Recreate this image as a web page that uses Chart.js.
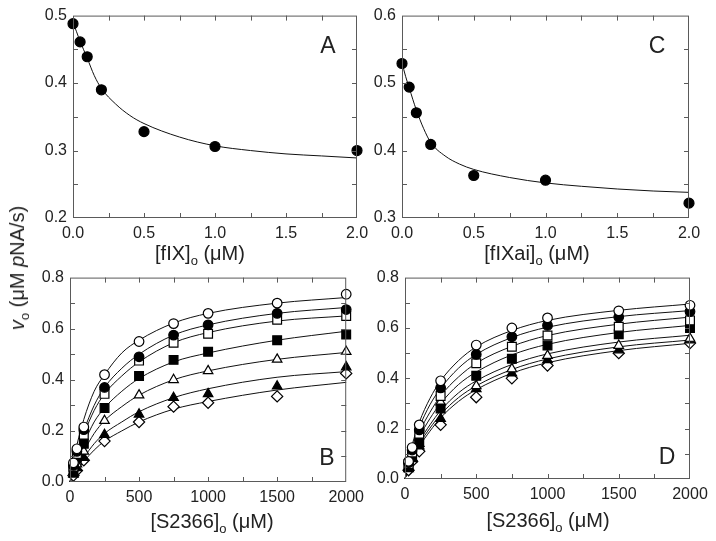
<!DOCTYPE html>
<html>
<head>
<meta charset="utf-8">
<script src="https://cdn.jsdelivr.net/npm/chart.js@4.4.1/dist/chart.umd.min.js"></script>
<style>
  body { margin: 0; background: #fff; }
  #wrap { position: relative; width: 716px; height: 541px; overflow: hidden;
          font-family: 'Liberation Sans', Arial, sans-serif; color: #222; }
  canvas { position: absolute; }
  .t { position: absolute; font-size: 20px; line-height: 20px; white-space: nowrap; transform: translateX(-50%); }
  .t sub { font-size: 13px; vertical-align: -5px; line-height: 0; }
  .ylab { position: absolute; left: 17px; top: 268px; font-size: 20px; line-height: 20px; white-space: nowrap;
          transform: translate(-50%, -50%) rotate(-90deg); }
  .ylab sub { font-size: 13px; vertical-align: -5px; line-height: 0; }
  .letter { position: absolute; font-size: 23px; line-height: 23px; transform: translate(-50%, -50%); }
</style>
</head>
<body>
<div id="wrap">
  <canvas id="cA" width="380" height="250" style="left:0;top:0"></canvas>
  <canvas id="cC" width="360" height="250" style="left:356px;top:0"></canvas>
  <canvas id="cB" width="370" height="250" style="left:0;top:262px"></canvas>
  <canvas id="cD" width="360" height="250" style="left:356px;top:262px"></canvas>

  <div class="t" style="left:200px;top:243px">[fIX]<sub>o</sub> (&mu;M)</div>
  <div class="t" style="left:537px;top:243px">[fIXai]<sub>o</sub> (&mu;M)</div>
  <div class="t" style="left:212px;top:511px">[S2366]<sub>o</sub> (&mu;M)</div>
  <div class="t" style="left:548px;top:510px">[S2366]<sub>o</sub> (&mu;M)</div>
  <div class="ylab"><i>v</i><sub>o</sub> (&mu;M <i>p</i>NA/s)</div>

  <div class="letter" style="left:328px;top:45px">A</div>
  <div class="letter" style="left:657px;top:45px">C</div>
  <div class="letter" style="left:327px;top:457px">B</div>
  <div class="letter" style="left:667px;top:456px">D</div>
</div>
<script>
// panel A: rate vs [fIX]
const fixConc = [0, 0.05, 0.1, 0.2, 0.5, 1.0, 2.0];
const rateA = [0.488, 0.461, 0.439, 0.390, 0.328, 0.306, 0.300];
const fitConc = [0, 0.025, 0.05, 0.1, 0.15, 0.2, 0.3, 0.4, 0.5, 0.75, 1.0, 1.25, 1.5, 1.75, 2.0];
const fitA = [0.490, 0.476, 0.462, 0.437, 0.411, 0.392, 0.369, 0.352, 0.340, 0.320, 0.307, 0.300, 0.295, 0.292, 0.289];

// panel C: rate vs [fIXai]
const rateC = [0.529, 0.494, 0.456, 0.409, 0.363, 0.356, 0.322];
const fitC = [0.530, 0.510, 0.493, 0.460, 0.433, 0.412, 0.392, 0.380, 0.372, 0.360, 0.352, 0.347, 0.343, 0.340, 0.338];

// panels B and D: rate vs [S2366]
const s2366 = [25, 50, 100, 250, 500, 750, 1000, 1500, 2000];
const fitS = [0, 25, 50, 100, 175, 250, 375, 500, 750, 1000, 1500, 2000];

const rateB1 = [0.075, 0.130, 0.215, 0.420, 0.550, 0.620, 0.660, 0.700, 0.735];
const rateB2 = [0.065, 0.120, 0.205, 0.370, 0.490, 0.575, 0.615, 0.660, 0.675];
const rateB3 = [0.060, 0.110, 0.185, 0.345, 0.475, 0.545, 0.580, 0.635, 0.650];
const rateB4 = [0.050, 0.095, 0.150, 0.290, 0.415, 0.478, 0.510, 0.555, 0.577];
const rateB5 = [0.040, 0.070, 0.120, 0.240, 0.340, 0.400, 0.435, 0.480, 0.510];
const rateB6 = [0.030, 0.055, 0.095, 0.185, 0.265, 0.330, 0.345, 0.375, 0.450];
const rateB7 = [0.025, 0.045, 0.085, 0.160, 0.235, 0.295, 0.310, 0.335, 0.425];

const fitB1 = [0, 0.080, 0.145, 0.245, 0.355, 0.420, 0.505, 0.555, 0.622, 0.660, 0.700, 0.722];
const fitB2 = [0, 0.064, 0.117, 0.200, 0.300, 0.370, 0.445, 0.500, 0.575, 0.615, 0.660, 0.683];
const fitB3 = [0, 0.056, 0.105, 0.185, 0.280, 0.345, 0.415, 0.470, 0.545, 0.585, 0.630, 0.650];
const fitB4 = [0, 0.045, 0.085, 0.150, 0.235, 0.290, 0.355, 0.405, 0.470, 0.505, 0.555, 0.590];
const fitB5 = [0, 0.035, 0.067, 0.120, 0.190, 0.240, 0.295, 0.340, 0.400, 0.435, 0.480, 0.507];
const fitB6 = [0, 0.027, 0.052, 0.095, 0.150, 0.190, 0.235, 0.275, 0.330, 0.365, 0.410, 0.432];
const fitB7 = [0, 0.022, 0.043, 0.080, 0.125, 0.160, 0.200, 0.235, 0.285, 0.315, 0.360, 0.390];

const rateD1 = [0.070, 0.125, 0.215, 0.390, 0.532, 0.600, 0.640, 0.668, 0.690];
const rateD2 = [0.065, 0.115, 0.195, 0.362, 0.495, 0.565, 0.610, 0.643, 0.665];
const rateD3 = [0.060, 0.105, 0.180, 0.330, 0.460, 0.525, 0.570, 0.605, 0.630];
const rateD4 = [0.050, 0.090, 0.145, 0.280, 0.410, 0.478, 0.530, 0.575, 0.600];
const rateD5 = [0.045, 0.085, 0.140, 0.305, 0.370, 0.437, 0.490, 0.530, 0.558];
const rateD6 = [0.040, 0.080, 0.130, 0.240, 0.358, 0.420, 0.473, 0.512, 0.552];
const rateD7 = [0.035, 0.070, 0.110, 0.215, 0.325, 0.400, 0.451, 0.500, 0.540];

const fitD1 = [0, 0.075, 0.135, 0.225, 0.320, 0.390, 0.470, 0.525, 0.590, 0.630, 0.670, 0.695];
const fitD2 = [0, 0.068, 0.125, 0.205, 0.295, 0.360, 0.440, 0.495, 0.562, 0.603, 0.645, 0.669];
const fitD3 = [0, 0.060, 0.110, 0.185, 0.265, 0.330, 0.405, 0.460, 0.527, 0.570, 0.615, 0.643];
const fitD4 = [0, 0.052, 0.097, 0.165, 0.240, 0.300, 0.375, 0.425, 0.493, 0.535, 0.582, 0.610];
const fitD5 = [0, 0.045, 0.085, 0.148, 0.215, 0.272, 0.342, 0.390, 0.455, 0.497, 0.544, 0.571];
const fitD6 = [0, 0.041, 0.079, 0.138, 0.202, 0.256, 0.323, 0.370, 0.435, 0.477, 0.525, 0.552];
const fitD7 = [0, 0.038, 0.073, 0.128, 0.190, 0.243, 0.308, 0.355, 0.420, 0.462, 0.510, 0.539];

const tickLabelFont = { family: "'Liberation Sans', Arial, sans-serif", size: 16 };

// inward ticks on all four sides plus the box
const frameTicks = {
  id: 'frameTicks',
  afterDraw(chart, args, opts) {
    const { ctx, chartArea: a, scales: { x, y } } = chart;
    const L = 5;
    ctx.save();
    ctx.strokeStyle = '#5a5a5a';
    ctx.lineWidth = 1;
    ctx.strokeRect(a.left + 0.5, a.top + 0.5, a.right - a.left - 1, a.bottom - a.top - 1);
    ctx.beginPath();
    const nx = Math.round((x.max - x.min) / opts.xStep);
    for (let i = 1; i < nx; i++) {
      const px = Math.round(x.getPixelForValue(x.min + i * opts.xStep)) + 0.5;
      ctx.moveTo(px, a.bottom); ctx.lineTo(px, a.bottom - L);
      ctx.moveTo(px, a.top); ctx.lineTo(px, a.top + L);
    }
    const ny = Math.round((y.max - y.min) / opts.yStep);
    for (let i = 1; i < ny; i++) {
      const py = Math.round(y.getPixelForValue(y.min + i * opts.yStep)) + 0.5;
      ctx.moveTo(a.left, py); ctx.lineTo(a.left + L, py);
      ctx.moveTo(a.right, py); ctx.lineTo(a.right - L, py);
    }
    ctx.stroke();
    ctx.restore();
  }
};

function pts(xs, ys) {
  return xs.map((v, i) => ({ x: v, y: ys[i] }));
}

function fitLine(xs, ys) {
  return {
    data: pts(xs, ys), showLine: true, pointRadius: 0, borderColor: '#111', borderWidth: 1,
    cubicInterpolationMode: 'monotone', order: 2, clip: false
  };
}

// marker styles: open circle, filled circle, open square, filled square, open triangle, filled triangle, open diamond
const markerStyles = [
  { pointStyle: 'circle', radius: 4.8, fill: '#fff' },
  { pointStyle: 'circle', radius: 4.8, fill: '#000' },
  { pointStyle: 'rect', radius: 6.2, fill: '#fff' },
  { pointStyle: 'rect', radius: 6.2, fill: '#000' },
  { pointStyle: 'triangle', radius: 5.5, fill: '#fff' },
  { pointStyle: 'triangle', radius: 5.5, fill: '#000' },
  { pointStyle: 'rectRot', radius: 5.6, fill: '#fff' }
];

function markers(xs, ys, m) {
  return {
    data: pts(xs, ys), showLine: false, pointStyle: m.pointStyle, pointRadius: m.radius,
    pointBackgroundColor: m.fill, pointBorderColor: '#000', pointBorderWidth: 1.2, order: 1, clip: false
  };
}

function makeChart(id, datasets, cfg) {
  new Chart(document.getElementById(id), {
    type: 'scatter',
    data: { datasets },
    options: {
      responsive: false,
      animation: false,
      events: [],
      layout: { padding: { top: cfg.padTop, right: cfg.padRight, left: 0, bottom: 0 } },
      plugins: {
        legend: { display: false },
        tooltip: { enabled: false },
        frameTicks: { xStep: cfg.xMinor, yStep: cfg.yMinor }
      },
      scales: {
        x: {
          type: 'linear', min: cfg.xMin, max: cfg.xMax,
          grid: { display: false, drawTicks: false },
          border: { display: false },
          ticks: {
            stepSize: cfg.xStep, padding: 6, color: '#222', font: tickLabelFont, maxRotation: 0,
            callback: v => cfg.xFmt(v)
          },
          afterFit: s => { s.height = cfg.xHeight; }
        },
        y: {
          type: 'linear', min: cfg.yMin, max: cfg.yMax,
          grid: { display: false, drawTicks: false },
          border: { display: false },
          ticks: {
            stepSize: cfg.yStep, padding: 6, color: '#222', font: tickLabelFont,
            callback: v => v.toFixed(1)
          },
          afterFit: s => { s.width = cfg.yWidth; }
        }
      }
    },
    plugins: [frameTicks]
  });
}

const filledDot = { pointStyle: 'circle', radius: 5, fill: '#000' };
const decimalFmt = v => v.toFixed(1);
const intFmt = v => String(Math.round(v));

makeChart('cA', [fitLine(fitConc, fitA), markers(fixConc, rateA, filledDot)], {
  xMin: 0, xMax: 2, xStep: 0.5, xMinor: 0.25, yMin: 0.2, yMax: 0.5, yStep: 0.1, yMinor: 0.05,
  padTop: 14, padRight: 23, xHeight: 32, yWidth: 73, xFmt: decimalFmt
});

makeChart('cC', [fitLine(fitConc, fitC), markers(fixConc, rateC, filledDot)], {
  xMin: 0, xMax: 2, xStep: 0.5, xMinor: 0.25, yMin: 0.3, yMax: 0.6, yStep: 0.1, yMinor: 0.05,
  padTop: 14, padRight: 27, xHeight: 32, yWidth: 46, xFmt: decimalFmt
});

const fitsB = [fitB1, fitB2, fitB3, fitB4, fitB5, fitB6, fitB7];
const ratesB = [rateB1, rateB2, rateB3, rateB4, rateB5, rateB6, rateB7];
makeChart('cB', [
  ...fitsB.map(f => fitLine(fitS, f)),
  ...ratesB.map((r, i) => markers(s2366, r, markerStyles[i]))
], {
  xMin: 0, xMax: 2000, xStep: 500, xMinor: 250, yMin: 0, yMax: 0.8, yStep: 0.2, yMinor: 0.1,
  padTop: 15, padRight: 16, xHeight: 30, yWidth: 70, xFmt: intFmt
});

const fitsD = [fitD1, fitD2, fitD3, fitD4, fitD5, fitD6, fitD7];
const ratesD = [rateD1, rateD2, rateD3, rateD4, rateD5, rateD6, rateD7];
makeChart('cD', [
  ...fitsD.map(f => fitLine(fitS, f)),
  ...ratesD.map((r, i) => markers(s2366, r, markerStyles[i]))
], {
  xMin: 0, xMax: 2000, xStep: 500, xMinor: 250, yMin: 0, yMax: 0.8, yStep: 0.2, yMinor: 0.1,
  padTop: 13, padRight: 26, xHeight: 33, yWidth: 49, xFmt: intFmt
});
</script>
</body>
</html>
